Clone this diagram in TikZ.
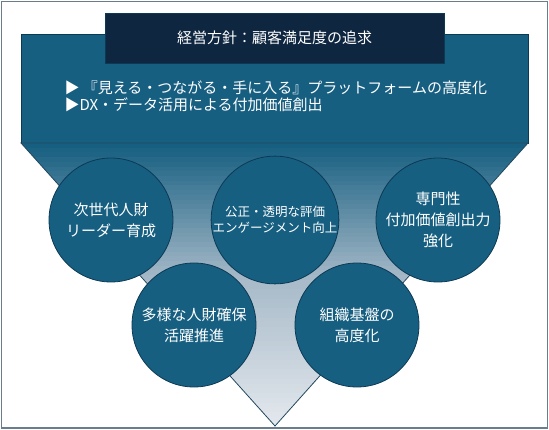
\documentclass[tikz,border=0pt]{standalone}
\usepackage{fontspec}
\setmainfont{Noto Sans CJK JP}

\definecolor{navy}{HTML}{0F2640}
\definecolor{teal}{HTML}{175F81}
\definecolor{tealdark}{HTML}{0C3A55}
\definecolor{funnelmid}{HTML}{AABCCA}
\definecolor{funnelend}{HTML}{E3E8ED}
\definecolor{framegray}{HTML}{6B7D8A}

\begin{document}
\begin{tikzpicture}[x=1pt, y=-1pt,
	headbox/.style={fill=navy, draw=tealdark, minimum width=339pt, minimum height=50pt, text=white, font=\fontsize{15}{18}\selectfont},
	pillar/.style={circle, fill=teal, draw=tealdark, line width=0.8pt, minimum size=124pt, inner sep=0pt, text=white, align=center, font=\fontsize{15}{21}\selectfont},
	pillarsmall/.style={pillar, font=\fontsize{12.5}{16}\selectfont}]
	
	\useasboundingbox (0,0) rectangle (549,430);
	\draw[framegray, line width=1.2pt] (1.5,1.5) rectangle (547.5,428);
	
	\draw[fill=teal, draw=tealdark, line width=0.8pt] (21,34) rectangle (528,143);
	
	\begin{scope}
		\clip (21,143) -- (528,143) -- (275,426) -- cycle;
		\foreach \k [evaluate=\k as \p using int(\k*100/29)] in {0,...,29}
			\fill[funnelmid!\p!teal] (21,{143+\k*4.72}) rectangle (528,{148.2+\k*4.72});
		\foreach \k [evaluate=\k as \p using int(\k*100/29)] in {0,...,29}
			\fill[funnelend!\p!funnelmid] (21,{284.5+\k*4.72}) rectangle (528,{289.7+\k*4.72});
	\end{scope}
	\draw[tealdark!80!gray, line width=0.8pt] (21,143) -- (528,143) -- (275,426) -- cycle;
	
	\node[headbox] (head) at (274.5,38) {経営方針：顧客満足度の追求};
	\node[anchor=west, align=left, text=white, font=\fontsize{15}{17}\selectfont] (policy) at (61,96) {▶ 『見える・つながる・手に入る』プラットフォームの高度化\\▶DX・データ活用による付加価値創出};
	
	\node[pillar] (leader) at (111,220) {次世代人財\\リーダー育成};
	\node[pillarsmall] (engage) at (275,220) {公正・透明な評価\\エンゲージメント向上};
	\node[pillar] (expert) at (438,220) {専門性\\付加価値創出力\\強化};
	\node[pillar] (diverse) at (194,325) {多様な人財確保\\活躍推進};
	\node[pillar] (base) at (357,325) {組織基盤の\\高度化};
	
\end{tikzpicture}
\end{document}
